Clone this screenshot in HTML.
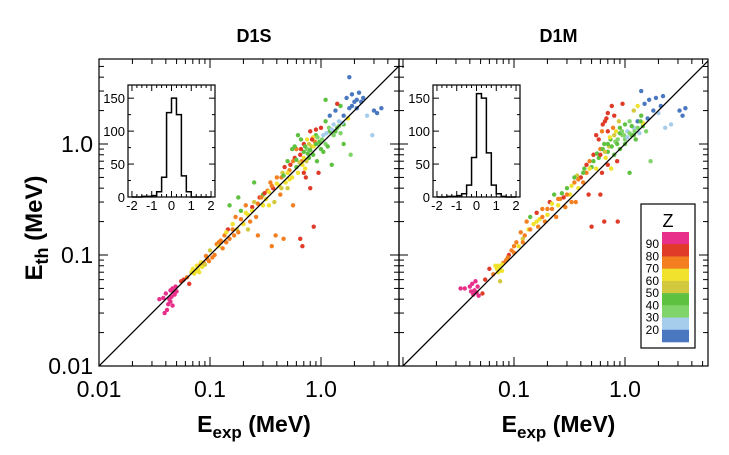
<!DOCTYPE html>
<html><head><meta charset="utf-8"><style>
body{margin:0;background:#fff}
svg{display:block;font-family:"Liberation Sans",Arial,sans-serif}
</style></head><body>
<svg id="chart" width="729" height="455" viewBox="0 0 729 455" xmlns="http://www.w3.org/2000/svg"></svg>
<script>
// ---- data ----
const zBands = [90, 80, 70, 60, 50, 40, 30, 20];
const bandColors = ["#e8308a","#e03a28","#f47f20","#f1e22e","#d2c93e","#5fc140","#80d469","#a7cdec","#4a78c0"];
const xTickLabels = ["0.01","0.1","1.0"];
const yTickLabels = ["0.01","0.1","1.0"];
const histBins = [-2,-1.75,-1.5,-1.25,-1,-0.75,-0.5,-0.25,0,0.25,0.5,0.75,1,1.25,1.5,1.75];
const histD1S = [0,0,1,1,2,8,30,128,150,125,32,8,0,0,0,0];
const histD1M = [0,0,1,1,2,5,18,60,157,150,67,18,5,1,0,0];
const histYTicks = [0,50,100,150];
const histXTicks = [-2,-1,0,1,2];
// points: [E_exp, E_th, Z]
const d1s = [[0.035,0.040,90],[0.040,0.045,90],[0.042,0.036,90],[0.044,0.048,90],[0.045,0.042,90],[0.046,0.050,90],[0.048,0.044,90],[0.043,0.040,90],[0.041,0.032,90],[0.039,0.030,90],[0.047,0.046,90],[0.050,0.047,90],[0.038,0.041,90],[0.044,0.038,90],[0.049,0.052,90],[0.046,0.035,90],
[0.055,0.058,85],[0.058,0.060,85],[0.062,0.063,75],[0.065,0.055,85],[0.068,0.070,65],[0.072,0.068,65],[0.075,0.072,65],[0.078,0.075,65],[0.080,0.070,65],[0.082,0.082,75],[0.085,0.078,65],[0.088,0.085,75],[0.090,0.082,55],[0.095,0.092,75],[0.098,0.088,75],[0.10,0.11,55],[0.105,0.095,75],[0.11,0.10,75],[0.115,0.125,75],[0.12,0.12,65],[0.125,0.135,75],[0.13,0.115,75],[0.135,0.15,75],[0.14,0.13,75],[0.145,0.17,85],[0.15,0.14,75],[0.16,0.19,65],[0.165,0.15,75],[0.17,0.22,75],[0.175,0.17,55],[0.18,0.16,75],[0.19,0.25,45],[0.2,0.19,65],[0.21,0.28,75],[0.22,0.23,65],[0.22,0.17,55],[0.23,0.2,75],[0.24,0.27,85],[0.25,0.3,55],[0.26,0.22,75],[0.27,0.15,75],[0.28,0.33,85],[0.3,0.28,65],[0.3,0.35,45],[0.32,0.32,65],[0.33,0.38,75],[0.34,0.28,65],[0.35,0.45,75],[0.36,0.12,75],[0.37,0.4,85],[0.38,0.3,55],[0.39,0.15,75],[0.4,0.5,75],[0.42,0.42,65],[0.43,0.35,75],[0.45,0.55,55],[0.46,0.14,75],[0.47,0.62,85],[0.48,0.45,65],[0.5,0.7,45],[0.5,0.4,55],[0.52,0.58,75],[0.55,0.5,65],[0.56,0.28,75],[0.58,0.75,85],[0.6,0.62,45],[0.6,0.9,75],[0.62,0.55,65],[0.65,0.8,85],[0.65,0.14,85],[0.67,0.7,75],[0.68,0.12,85],[0.7,1.0,85],[0.7,0.85,45],[0.72,0.6,65],[0.73,0.5,85],[0.75,1.1,65],[0.75,0.9,35],[0.78,0.75,45],[0.8,1.3,85],[0.8,0.4,85],[0.82,0.95,55],[0.85,0.8,45],[0.86,0.18,85],[0.88,1.05,75],[0.9,1.2,45],[0.92,0.7,45],[0.95,1.0,35],[0.95,0.55,85],[1.0,1.4,85],[1.0,0.9,45],[1.05,1.2,25],[1.1,1.6,45],[1.1,1.0,35],[1.15,0.95,45],[1.2,1.3,45],[1.2,1.8,15],[1.25,0.65,45],[1.3,1.5,25],[1.3,1.2,35],[1.35,2.0,15],[1.4,1.4,45],[1.45,1.6,25],[1.5,1.25,35],[1.5,2.2,45],[1.6,1.8,15],[1.6,1.0,45],[1.7,2.6,15],[1.75,1.7,65],[1.8,2.1,15],[1.85,0.8,35],[1.9,2.8,15],[2.0,2.4,15],[2.1,2.5,15],[2.2,2.9,15],[2.3,2.4,15],[2.4,2.6,15],[1.8,4.0,15],[2.6,1.8,25],[3.0,2.0,15],[3.2,1.9,15],[3.5,2.1,15],[2.9,1.2,25],[0.55,0.9,45],[0.25,0.45,45],[0.18,0.33,45],[0.15,0.28,45],[0.7,0.55,85],[1.1,2.5,45],[1.4,2.3,85],[1.6,1.5,45],[0.62,1.2,45],[0.66,1.1,45],[0.58,0.95,45],[0.85,1.15,65],[0.9,1.35,85],
[0.07,0.075,65],[0.076,0.08,65],[0.083,0.086,65],[0.092,0.098,75],[0.12,0.13,75],[0.14,0.16,65],[0.16,0.17,75],[0.19,0.21,75],[0.21,0.24,65],[0.24,0.25,65],[0.27,0.29,75],[0.29,0.33,75],[0.31,0.36,85],[0.34,0.37,65],[0.36,0.42,75],[0.4,0.44,65],[0.44,0.5,75],[0.46,0.52,45],[0.5,0.55,65],[0.53,0.65,85],[0.56,0.7,75],[0.6,0.72,45],[0.64,0.68,55],[0.66,0.9,85],[0.7,0.75,65],[0.72,0.95,45],[0.76,0.82,45],[0.78,1.0,55],[0.8,0.88,45],[0.83,1.1,85],[0.86,0.95,65],[0.9,1.0,45],[0.93,1.15,35],[0.97,1.05,45],[1.02,1.1,35],[1.05,0.85,45],[1.12,1.25,25],[1.18,1.4,35],[1.25,1.35,25],[1.35,1.3,45],[1.45,1.45,35],[1.55,1.55,25],[1.9,2.2,15],[2.1,2.1,15],[0.68,0.65,65],[0.74,0.7,55],[0.52,0.48,65],[0.44,0.4,55]];
const d1m = [[0.033,0.050,90],[0.036,0.050,90],[0.040,0.052,90],[0.042,0.055,90],[0.044,0.048,90],[0.045,0.058,90],[0.046,0.046,90],[0.043,0.044,90],[0.047,0.052,90],[0.041,0.047,90],[0.048,0.043,90],
[0.052,0.045,85],[0.055,0.060,85],[0.06,0.075,85],[0.065,0.067,75],[0.068,0.080,65],[0.07,0.075,65],[0.072,0.070,65],[0.075,0.078,65],[0.078,0.072,65],[0.08,0.085,75],[0.075,0.058,55],[0.085,0.09,75],[0.09,0.1,85],[0.095,0.11,75],[0.1,0.105,75],[0.105,0.13,75],[0.11,0.12,65],[0.115,0.16,75],[0.12,0.14,55],[0.125,0.15,75],[0.13,0.2,75],[0.135,0.17,65],[0.14,0.22,45],[0.15,0.19,65],[0.16,0.24,85],[0.165,0.18,75],[0.17,0.21,65],[0.18,0.26,75],[0.19,0.2,75],[0.2,0.23,65],[0.21,0.3,85],[0.22,0.26,75],[0.23,0.35,45],[0.24,0.22,75],[0.25,0.28,65],[0.26,0.32,75],[0.28,0.33,85],[0.29,0.27,75],[0.3,0.4,45],[0.32,0.35,65],[0.33,0.3,75],[0.35,0.45,75],[0.36,0.3,75],[0.37,0.52,55],[0.38,0.4,65],[0.4,0.5,85],[0.42,0.45,75],[0.43,0.6,45],[0.45,0.55,75],[0.47,0.35,85],[0.48,0.7,75],[0.5,0.62,45],[0.5,0.18,85],[0.52,0.8,85],[0.55,0.6,65],[0.55,1.2,85],[0.58,0.75,45],[0.6,0.35,85],[0.6,0.9,75],[0.62,0.55,85],[0.63,1.5,85],[0.65,1.0,45],[0.65,0.2,85],[0.67,0.75,65],[0.68,1.7,85],[0.7,0.65,85],[0.7,1.3,85],[0.72,0.95,55],[0.74,1.1,45],[0.75,0.6,65],[0.76,2.2,85],[0.78,1.4,75],[0.8,0.8,45],[0.8,1.8,85],[0.82,1.05,35],[0.85,0.7,85],[0.86,0.2,85],[0.88,1.6,55],[0.9,0.9,45],[0.95,1.2,35],[1.0,1.5,45],[1.0,1.0,45],[1.05,1.3,25],[1.1,0.55,45],[1.1,1.6,35],[1.15,1.2,45],[1.2,2.0,55],[1.2,1.4,25],[1.25,1.1,45],[1.3,1.6,15],[1.35,1.25,25],[1.4,1.8,45],[1.45,1.45,45],[1.5,2.3,15],[1.55,1.3,35],[1.6,1.7,15],[1.65,2.5,15],[1.7,0.7,35],[1.8,2.0,15],[1.9,2.6,15],[2.0,1.9,25],[2.1,2.2,15],[2.2,2.7,15],[2.3,1.4,25],[3.1,2.0,15],[3.5,2.1,15],[3.3,1.8,15],[2.6,1.5,25],[0.95,2.3,85],[1.4,3.0,15],[1.3,2.2,65],[1.2,1.2,45],[1.45,1.55,65],[0.9,1.25,45],[1.0,1.1,35],[0.85,1.0,45],[0.7,0.85,45],
[0.072,0.08,65],[0.078,0.082,65],[0.088,0.095,75],[0.1,0.12,75],[0.12,0.13,75],[0.14,0.17,75],[0.16,0.2,65],[0.18,0.22,75],[0.2,0.26,75],[0.22,0.29,65],[0.25,0.32,75],[0.27,0.36,45],[0.3,0.35,75],[0.33,0.42,65],[0.35,0.5,45],[0.38,0.48,75],[0.42,0.55,45],[0.45,0.65,85],[0.48,0.6,65],[0.52,0.7,45],[0.56,0.82,45],[0.6,0.8,85],[0.63,0.9,45],[0.66,0.85,55],[0.7,1.0,45],[0.73,1.15,65],[0.76,0.95,45],[0.8,1.2,55],[0.83,1.3,65],[0.86,1.1,35],[0.9,1.4,45],[0.94,1.3,35],[0.98,1.2,35],[1.05,1.15,25],[1.1,1.25,35],[1.15,1.45,45],[1.22,1.3,35],[1.3,1.4,35],[1.38,1.6,45],[0.58,1.1,85],[0.62,1.3,75],[0.66,1.6,85],[0.7,1.9,85]];

// ---- drawing ----
const NS="http://www.w3.org/2000/svg";
const svg=document.getElementById('chart');
function el(tag,attrs,parent){const e=document.createElementNS(NS,tag);for(const k in attrs)e.setAttribute(k,attrs[k]);(parent||svg).appendChild(e);return e;}
function colorFor(z){return z>=90?bandColors[0]:z>=80?bandColors[1]:z>=70?bandColors[2]:z>=60?bandColors[3]:z>=50?bandColors[4]:z>=40?bandColors[5]:z>=30?bandColors[6]:z>=20?bandColors[7]:bandColors[8];}

const DEC=111, Y0=366, TOP=59;
function drawPanel(name,left,right,x0,pts,title,showY){
  const g=el('g',{});
  
  
  const xs=v=>x0+(Math.log10(v)+2)*DEC;
  const ys=v=>Y0-(Math.log10(v)+2)*DEC;
  const clipId='clip-'+name;
  const cp=el('clipPath',{id:clipId},g);el('rect',{x:left,y:TOP,width:right-left,height:Y0-TOP},cp);
  for(let d=-2;d<=1;d++){for(let m=1;m<=9;m++){const v=m*Math.pow(10,d);const L=m===1?9:5;
    const x=xs(v); if(x>left+0.5&&x<right-0.5){
      const t1=el('line',{x1:x,y1:Y0,x2:x,y2:Y0-L,stroke:'#000','stroke-width':1},g);
      
      el('line',{x1:x,y1:TOP,x2:x,y2:TOP+L,stroke:'#000','stroke-width':1},g);}
    const y=ys(v); if(y>TOP+0.5&&y<Y0-0.5){
      const t2=el('line',{x1:left,y1:y,x2:left+L,y2:y,stroke:'#000','stroke-width':1},g);
      
      el('line',{x1:right,y1:y,x2:right-L,y2:y,stroke:'#000','stroke-width':1},g);}
  }}
  const pg=el('g',{'clip-path':'url(#'+clipId+')'},g);
  pts.forEach(p=>{const c=el('circle',{cx:xs(p[0]),cy:ys(p[1]),r:2.2,fill:colorFor(p[2])},pg);
    
    });
  const dl=el('line',{x1:xs(0.01),y1:ys(0.01),x2:xs(6),y2:ys(6),stroke:'#000','stroke-width':1.3,'clip-path':'url(#'+clipId+')'},g);
  
  const fr=el('rect',{x:left,y:TOP,width:right-left,height:Y0-TOP,fill:'none',stroke:'#000','stroke-width':1.2},g);
  
  xTickLabels.forEach((s,i)=>{if(!showY&&i===0)return;const t=el('text',{x:xs(Math.pow(10,i-2)),y:397,'font-size':23,'text-anchor':'middle'},g);t.textContent=s;
    });
  if(showY){yTickLabels.forEach((s,i)=>{const t=el('text',{x:left-6,y:ys(Math.pow(10,i-2))+8,'font-size':23,'text-anchor':'end'},g);t.textContent=s;
    });}
  const tt=el('text',{x:(left+right)/2+5,y:42,'font-size':18,'font-weight':'bold','text-anchor':'middle'},g);tt.textContent=title;
  
  const xt=el('text',{x:(left+right)/2+5,y:432,'font-size':23,'font-weight':'bold','text-anchor':'middle'},g);
  xt.innerHTML='E<tspan font-size="17" dy="6">exp</tspan><tspan dy="-6"> (MeV)</tspan>';
  
}
function drawHist(name,L,R,T,B,counts){
  const g=el('g',{});
  
  
  const hx=v=>L+(v+2.2)/4.4*(R-L);
  const hy=v=>B-v/170*(B-T);
  el('rect',{x:L,y:T,width:R-L,height:B-T,fill:'#fff',stroke:'none'},g);
  for(let v=-2;v<=2.001;v+=0.25){const x=hx(v);const Lg=Math.abs(v-Math.round(v))<1e-6?6:3;
    el('line',{x1:x,y1:B,x2:x,y2:B-Lg,stroke:'#000'},g);el('line',{x1:x,y1:T,x2:x,y2:T+Lg,stroke:'#000'},g);}
  for(let v=0;v<=170;v+=25){const y=hy(v);const Lg=v%50===0?6:3;
    el('line',{x1:L,y1:y,x2:L+Lg,y2:y,stroke:'#000'},g);el('line',{x1:R,y1:y,x2:R-Lg,y2:y,stroke:'#000'},g);}
  let d='M'+hx(histBins[0])+','+hy(0);
  counts.forEach((c,i)=>{const x0=hx(histBins[i]),x1=hx(histBins[i]+0.25);d+=' L'+x0+','+hy(c)+' L'+x1+','+hy(c);});
  d+=' L'+hx(2)+','+hy(0);
  const p=el('path',{d:d,fill:'none',stroke:'#000','stroke-width':1.5},g);
  
  el('rect',{x:L,y:T,width:R-L,height:B-T,fill:'none',stroke:'#000','stroke-width':1.2},g);
  histYTicks.forEach(v=>{const t=el('text',{x:L-3,y:hy(v)+5,'font-size':13,'text-anchor':'end'},g);t.textContent=v;
    });
  histXTicks.forEach(v=>{const t=el('text',{x:hx(v),y:B+13,'font-size':13,'text-anchor':'middle'},g);t.textContent=v;
    });
}
drawPanel('d1s',99,399,99,d1s,'D1S',true);
drawPanel('d1m',399,708,403,d1m,'D1M',false);
drawHist('d1s-inset-histogram',128,215,85,197,histD1S);
drawHist('d1m-inset-histogram',433,520,85,197,histD1M);
const yt=el('text',{x:0,y:0,'font-size':24,'font-weight':'bold','text-anchor':'middle',transform:'translate(42,228) rotate(-90)'});
yt.innerHTML='E<tspan font-size="18" dy="6">th</tspan><tspan dy="-6"> (MeV)</tspan>';


const lg=el('g',{});


el('rect',{x:641,y:204,width:54,height:144,fill:'#fff',stroke:'#000','stroke-width':1.2},lg);
const lt=el('text',{x:668,y:227,'font-size':18,'text-anchor':'middle'},lg);lt.textContent='Z';
const bh=110/9;
bandColors.forEach((c,i)=>{const r=el('rect',{x:662,y:232+i*bh,width:27,height:bh+0.3,fill:c},lg);
  });
zBands.forEach((z,i)=>{const t=el('text',{x:659,y:232+(i+1)*bh+4,'font-size':12,'text-anchor':'end'},lg);t.textContent=z;
  });
</script>
</body></html>
